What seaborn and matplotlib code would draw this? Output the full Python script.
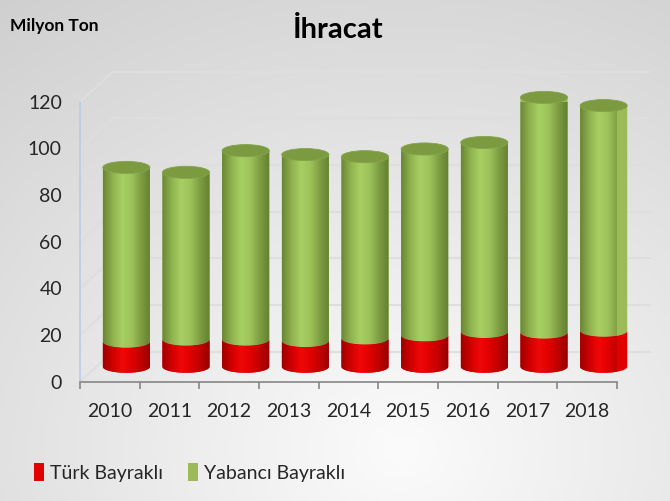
import numpy as np
import pandas as pd
import matplotlib
matplotlib.use("Agg")
import matplotlib.pyplot as plt
import matplotlib.transforms as mtransforms
from matplotlib.colors import LinearSegmentedColormap
from matplotlib.patches import Polygon, Ellipse, ConnectionPatch, Patch
import seaborn as sns

# values (million tons)
years = ["2010", "2011", "2012", "2013", "2014", "2015", "2016", "2017", "2018"]
turk = [10.7, 11.6, 11.6, 11.0, 12.1, 13.4, 14.9, 14.6, 15.4]
yabanci = [74.7, 71.7, 81.0, 79.9, 77.9, 79.9, 81.2, 100.8, 96.5]
y_ticks = [0, 20, 40, 60, 80, 100, 120]

RED = "#e00000"
GREEN = "#9bbb59"
CAP = "#7c9b40"

sns.set_theme(style="white")
FONT = ["Lato", "DejaVu Sans"]
plt.rcParams["font.family"] = FONT

df = pd.DataFrame({"Yil": years, "Turk": turk, "Yabanci": yabanci})
df["Toplam"] = df["Turk"] + df["Yabanci"]

fig = plt.figure(figsize=(6.7, 5.01), dpi=100)

# grey gradient background like the slide
bg = fig.add_axes([0, 0, 1, 1], zorder=-5)
gx, gy = np.meshgrid(np.linspace(0, 1, 200), np.linspace(0, 1, 200))
dist = np.sqrt((gx - 0.6) ** 2 + ((gy - 0.9) * 0.9) ** 2)
shade = np.clip(0.985 - 0.17 * dist, 0.80, 0.985)
bg.imshow(np.dstack([shade] * 3), extent=[0, 1, 0, 1], aspect="auto", origin="upper")
bg.axis("off")

ax = fig.add_axes([80 / 670, (501 - 381.7) / 501, (617 - 80) / 670, 280 / 501])
ax.patch.set_alpha(0)

sns.barplot(data=df, x="Yil", y="Toplam", color=GREEN, width=0.79, saturation=1, ax=ax)
sns.barplot(data=df, x="Yil", y="Turk", color=RED, width=0.79, saturation=1, ax=ax)

# 3d depth offsets: bars sit mid-depth, gridlines on the back wall
mid = ax.transData + mtransforms.ScaledTranslation(0.165, 0.15, fig.dpi_scale_trans)
back = ax.transData + mtransforms.ScaledTranslation(0.33, 0.30, fig.dpi_scale_trans)

for v in y_ticks:
    ax.plot([-0.5, 8.5], [v, v], transform=back, color="#dedede", lw=1.5, clip_on=False, zorder=0)
    con = ConnectionPatch(xyA=(-0.5, v), coordsA=ax.transData, xyB=(-0.5, v), coordsB=back,
                          color="#dedede", lw=1.5, zorder=0)
    ax.add_artist(con)

eh = 2.6  # half height of the cylinder ellipses, in data units


def lower_arc(xc, hw, y, n=40):
    t = np.linspace(np.pi, 2 * np.pi, n)
    return np.column_stack([xc + hw * np.cos(t), y + eh * np.sin(t)])


def gradient(colors):
    cmap = LinearSegmentedColormap.from_list("g", colors)
    return cmap(np.linspace(0, 1, 80))[None, :, :]


green_grad = gradient(["#6a8734", "#8fb24f", "#a8cf63", "#9cc25a", "#7e9d42", "#62802f"])
red_grad = gradient(["#9e0000", "#d00000", "#f00808", "#e00000", "#c00000", "#950000"])


def cylinder(xc, hw, y0, y1, grad, base, curved_top):
    pts = [(xc - hw, y1), (xc - hw, y0)]
    pts += list(map(tuple, lower_arc(xc, hw, y0)))
    pts.append((xc + hw, y1))
    if curved_top:
        pts += list(map(tuple, lower_arc(xc, hw, y1)[::-1]))
    poly = Polygon(pts, closed=True, facecolor=base, edgecolor="none", transform=mid,
                   clip_on=False, zorder=3)
    ax.add_patch(poly)
    im = ax.imshow(grad, extent=(xc - hw, xc + hw, y0 - eh, y1), aspect="auto",
                   transform=mid, zorder=3.1, interpolation="bilinear")
    im.set_clip_path(poly)


n = len(years)
green_bars = ax.patches[:n]
red_bars = ax.patches[n:2 * n]
for gb, rb in zip(green_bars, red_bars):
    xc = gb.get_x() + gb.get_width() / 2
    hw = gb.get_width() / 2
    total = gb.get_height()
    r = rb.get_height()
    gb.set_visible(False)
    rb.set_visible(False)
    cylinder(xc, hw, r, total, green_grad, GREEN, False)
    cylinder(xc, hw, 0, r, red_grad, RED, True)
    ax.add_patch(Ellipse((xc, total), 2 * hw, 2 * eh, facecolor=CAP, edgecolor="#86a34a",
                         lw=0.6, transform=mid, clip_on=False, zorder=3.5))

ax.set_xlim(-0.5, n - 0.5)
ax.set_ylim(0, 120)
ax.set_yticks(y_ticks)
ax.set_xticks(range(n))
ax.set_xticklabels(years)
ax.set_xticks(np.arange(-0.5, n, 1), minor=True)
ax.set_xlabel("")
ax.set_ylabel("")
ax.tick_params(axis="x", which="major", length=0, pad=15, labelsize=14, labelcolor="#262626")
ax.tick_params(axis="x", which="minor", length=5, width=1.2, color="#868686", direction="out", bottom=True)
ax.tick_params(axis="y", length=0, pad=13, labelsize=14, labelcolor="#262626")
for s in ["top", "right"]:
    ax.spines[s].set_visible(False)
ax.spines["left"].set_color("#b9cde5")
ax.spines["left"].set_linewidth(1.2)
ax.spines["bottom"].set_color("#868686")
ax.spines["bottom"].set_linewidth(1.2)
ax.grid(False)

fig.text(0.505, 0.94, "İhracat", ha="center", va="center", fontsize=21, fontweight="bold", color="black")
fig.text(0.015, 0.948, "Milyon Ton", ha="left", va="center", fontsize=12.5, fontweight="bold", color="black")

handles = [Patch(facecolor=RED, edgecolor="none", label="Türk Bayraklı"),
           Patch(facecolor=GREEN, edgecolor="none", label="Yabancı Bayraklı")]
fig.legend(handles=handles, loc="center left", bbox_to_anchor=(0.025, 0.057), ncol=2, frameon=False,
           fontsize=14, handlelength=0.5, handleheight=1.0, handletextpad=0.3, columnspacing=1.3,
           labelcolor="#262626")

fig.savefig("out.png", dpi=100)
